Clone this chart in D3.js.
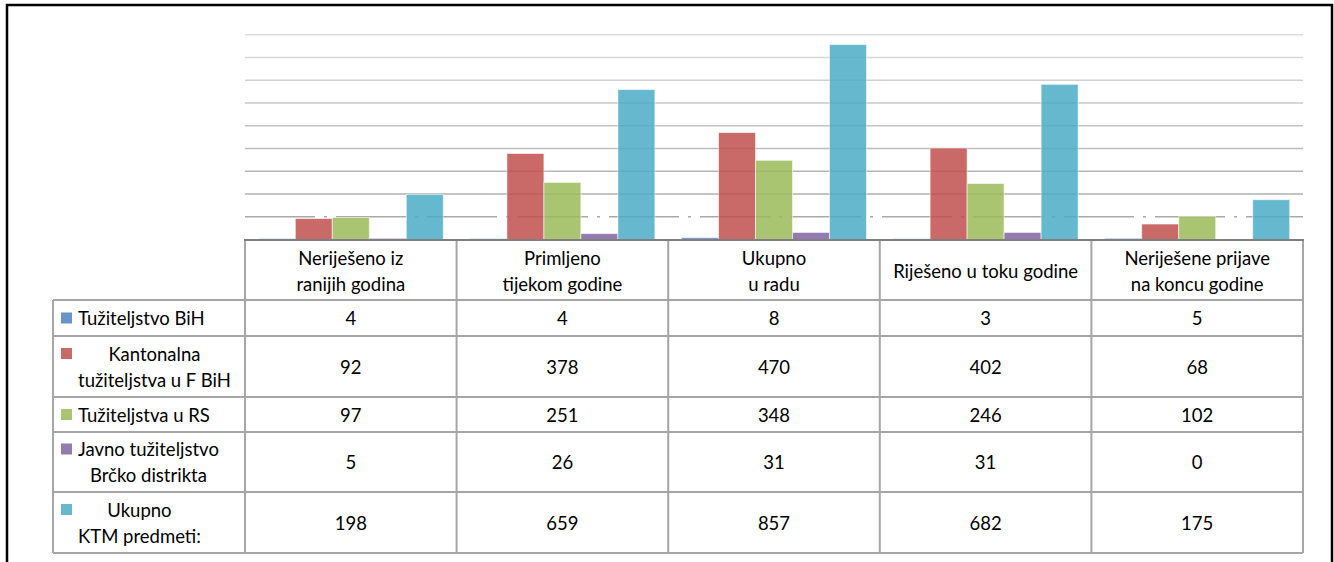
<!DOCTYPE html>
<html>
<head>
<meta charset="utf-8">
<script src="https://cdn.jsdelivr.net/npm/d3@7"></script>
<style>
  body { margin: 0; background: #fff; }
  svg text { font-family: Lato, "Open Sans", sans-serif; fill: #000; }
</style>
</head>
<body>
<div id="chart"></div>
<script>
// data
const categories = [
  ["Neriješeno iz", "ranijih godina"],
  ["Primljeno", "tijekom godine"],
  ["Ukupno", "u radu"],
  ["Riješeno u toku godine"],
  ["Neriješene prijave", "na koncu godine"]
];
const seriesNames = [
  ["Tužiteljstvo BiH"],
  ["Kantonalna", "tužiteljstva u F BiH"],
  ["Tužiteljstva u RS"],
  ["Javno tužiteljstvo", "Brčko distrikta"],
  ["Ukupno", "KTM predmeti:"]
];
const seriesColors = ["#4F81BD", "#C0504D", "#9BBB59", "#8064A2", "#4BACC6"];
const tuzBiH     = [4, 4, 8, 3, 5];
const kantonalna = [92, 378, 470, 402, 68];
const tuzRS      = [97, 251, 348, 246, 102];
const brcko      = [5, 26, 31, 31, 0];
const ukupno     = [198, 659, 857, 682, 175];
const seriesValues = [tuzBiH, kantonalna, tuzRS, brcko, ukupno];
const yTicks = [100, 200, 300, 400, 500, 600, 700, 800, 900];

const W = 1334, H = 562;
const plot = { left: 245, right: 1303, top: 12, bottom: 240 };
const rowEdges = [240, 300, 336, 397, 432, 492, 553];
const labelLeft = 53;

const svg = d3.select("#chart").append("svg")
  .attr("width", W).attr("height", H);

// outer frame
svg.append("rect")
  .attr("x", 7).attr("y", 5)
  .attr("width", 1325).attr("height", 600)
  .attr("fill", "none").attr("stroke", "#000").attr("stroke-width", 2.5);

const x0 = d3.scaleBand()
  .domain(d3.range(categories.length))
  .range([plot.left, plot.right])
  .padding(0);

const x1 = d3.scaleBand()
  .domain(d3.range(seriesNames.length))
  .range([0, x0.bandwidth()])
  .paddingInner(0)
  .paddingOuter(0.36);

const y = d3.scaleLinear()
  .domain([0, 1000])
  .range([plot.bottom - 0.5, plot.top]);

// grid lines (lighter towards the top)
const gridColor = d3.scaleLinear().domain([100, 900]).range(["#a9a9a9", "#dedede"]);
svg.append("g")
  .selectAll("line")
  .data(yTicks)
  .join("line")
  .attr("x1", plot.left).attr("x2", plot.right)
  .attr("y1", d => y(d)).attr("y2", d => y(d))
  .attr("stroke", d => gridColor(d))
  .attr("stroke-width", 1.6)
  .attr("stroke-dasharray", d => d === 100 ? "70 9 3 9" : null);

// bars
seriesValues.forEach((vals, s) => {
  svg.append("g")
    .selectAll("rect")
    .data(vals)
    .join("rect")
    .attr("x", (d, i) => x0(i) + x1(s))
    .attr("width", x1.bandwidth())
    .attr("y", d => y(d))
    .attr("height", d => y(0) - y(d))
    .attr("fill", seriesColors[s])
    .attr("fill-opacity", 0.85)
    .attr("stroke", "#fff")
    .attr("stroke-opacity", 0.55)
    .attr("stroke-width", 1);
});

// data table
const grid = svg.append("g")
  .attr("stroke", "#a6a6a6")
  .attr("stroke-width", 2)
  .attr("fill", "none");

// horizontal lines
rowEdges.forEach((ry, r) => {
  if (r === 0) return;
  grid.append("line")
    .attr("x1", r === 1 ? plot.left : labelLeft).attr("x2", plot.right)
    .attr("y1", ry).attr("y2", ry);
});
// also top of first data row across label column
grid.append("line")
  .attr("x1", labelLeft).attr("x2", plot.left)
  .attr("y1", rowEdges[1]).attr("y2", rowEdges[1]);

// vertical lines
x0.domain().concat([categories.length]).forEach(i => {
  const xx = i < categories.length ? x0(i) : plot.right;
  grid.append("line")
    .attr("x1", xx).attr("x2", xx)
    .attr("y1", rowEdges[0]).attr("y2", rowEdges[rowEdges.length - 1]);
});
grid.append("line")
  .attr("x1", labelLeft).attr("x2", labelLeft)
  .attr("y1", rowEdges[1]).attr("y2", rowEdges[rowEdges.length - 1]);

// axis line
svg.append("line")
  .attr("x1", plot.left - 1).attr("x2", plot.right + 1)
  .attr("y1", plot.bottom).attr("y2", plot.bottom)
  .attr("stroke", "#7f7f7f").attr("stroke-width", 2);

const fontSize = 18.5;
const lineGap = 26;

// header labels
categories.forEach((lines, i) => {
  const cx = x0(i) + x0.bandwidth() / 2;
  const cy = (rowEdges[0] + rowEdges[1]) / 2 + 1;
  lines.forEach((t, k) => {
    svg.append("text")
      .attr("x", cx)
      .attr("y", cy + (k - (lines.length - 1) / 2) * lineGap)
      .attr("text-anchor", "middle")
      .attr("dominant-baseline", "central")
      .style("font-size", fontSize + "px")
      .text(t);
  });
});

// row labels with legend keys, values
seriesNames.forEach((lines, s) => {
  const cy = (rowEdges[s + 1] + rowEdges[s + 2]) / 2;
  const texts = lines.map((t, k) => svg.append("text")
    .attr("y", cy + (k - (lines.length - 1) / 2) * lineGap)
    .attr("dominant-baseline", "central")
    .attr("text-anchor", "middle")
    .style("font-size", fontSize + "px")
    .text(t));
  const widths = texts.map(t => t.node().getComputedTextLength());
  const maxW = d3.max(widths);
  texts.forEach(t => t.attr("x", 78 + maxW / 2));

  const firstY = cy - (lines.length - 1) / 2 * lineGap;
  svg.append("rect")
    .attr("x", 61).attr("y", firstY - 5.5)
    .attr("width", 11).attr("height", 11)
    .attr("fill", seriesColors[s])
    .attr("fill-opacity", 0.85);

  seriesValues[s].forEach((v, i) => {
    svg.append("text")
      .attr("x", x0(i) + x0.bandwidth() / 2)
      .attr("y", cy)
      .attr("text-anchor", "middle")
      .attr("dominant-baseline", "central")
      .style("font-size", fontSize + "px")
      .text(v);
  });
});
</script>
</body>
</html>
